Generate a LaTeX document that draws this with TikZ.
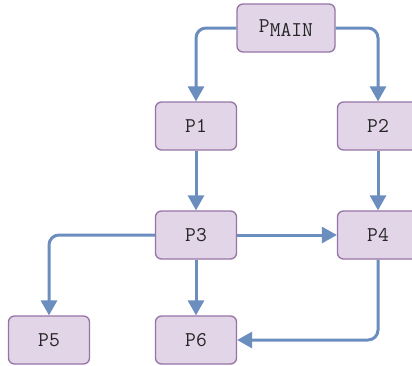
\documentclass[tikz,border=0pt]{standalone}
\usepackage{fontspec}
\usetikzlibrary{arrows.meta}
\definecolor{procfill}{HTML}{E1D5E7}
\definecolor{procdraw}{HTML}{9673A6}
\definecolor{flowblue}{HTML}{6C8EBF}
\tikzset{
  proc/.style={draw=procdraw, fill=procfill, line width=1.3pt, rounded corners=6pt,
    minimum width=81pt, minimum height=48pt, inner sep=0pt,
    font=\ttfamily\fontsize{21}{21}\selectfont, text=black!85},
  flow/.style={draw=flowblue, line width=3pt, rounded corners=10pt,
    -{Triangle[length=15pt,width=16pt]}}
}
\begin{document}
\begin{tikzpicture}[x=1pt, y=-1pt]
		\useasboundingbox (0,0) rectangle (412,365);
		% process boxes
		\node [proc, minimum width=98pt] (pmain) at (286, 28) {P\raisebox{-4pt}{MAIN}};
		\node [proc] (p1) at (196, 126) {P1};
		\node [proc] (p2) at (378, 126) {P2};
		\node [proc] (p3) at (196, 235) {P3};
		\node [proc] (p4) at (378, 235) {P4};
		\node [proc] (p5) at (49, 340) {P5};
		\node [proc] (p6) at (196, 340) {P6};
		
		\draw [flow] (pmain.west) -| (p1.north);
		\draw [flow] (pmain.east) -| (p2.north);
		\draw [flow] (p1) -- (p3);
		\draw [flow] (p2) -- (p4);
		\draw [flow] (p3) -- (p4);
		\draw [flow] (p3.west) -| (p5.north);
		\draw [flow] (p3) -- (p6);
		\draw [flow] (p4.south) |- (p6.east);
		
		\end{tikzpicture}
\end{document}
